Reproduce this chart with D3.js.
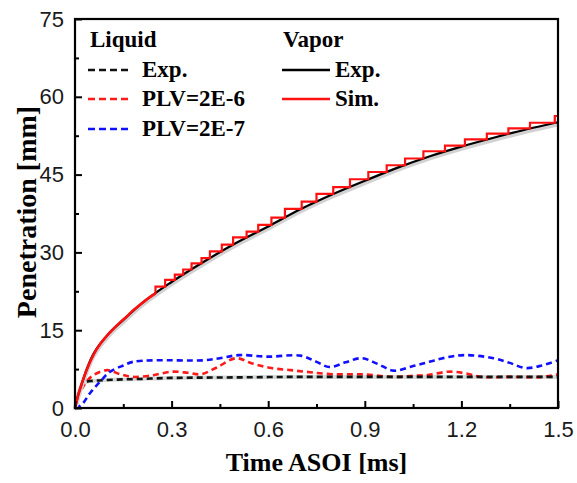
<!DOCTYPE html>
<html>
<head>
<meta charset="utf-8">
<script src="https://cdn.jsdelivr.net/npm/d3@7"></script>
<style>
  body { margin: 0; background: #fff; }
  svg { display: block; }
</style>
</head>
<body>
<svg id="chart" width="577" height="483"></svg>
<script>
/* ---------------------------------------------------
   Data
--------------------------------------------------- */

// vapor penetration, experiment
const vapExpTime = [0, 0.01, 0.02, 0.05, 0.1, 0.15, 0.2, 0.3, 0.4, 0.5, 0.6, 0.7, 0.8, 0.9, 1.0, 1.1, 1.2, 1.3, 1.4, 1.5];
const vapExpPen  = [0, 2.5, 4.5, 9.5, 14.0, 17.0, 19.8, 24.3, 28.2, 31.8, 35.0, 38.3, 41.2, 43.8, 46.3, 48.5, 50.4, 52.1, 53.7, 55.1];

// vapor penetration, simulation (stepped output once the steps get visible)
const vapSimTime = [0, 0.005, 0.01, 0.02, 0.03, 0.04, 0.05, 0.065, 0.08, 0.1, 0.12, 0.14, 0.16, 0.18, 0.2, 0.22, 0.25,
  0.28, 0.31, 0.336, 0.362, 0.393, 0.419, 0.456, 0.491, 0.533, 0.569, 0.61, 0.652, 0.704, 0.75, 0.802, 0.854,
  0.911, 0.968, 1.025, 1.082, 1.149, 1.211, 1.279, 1.346, 1.413, 1.49, 1.5];
const vapSimPen  = [0, 1.3, 2.5, 4.5, 6.3, 7.9, 9.3, 11.1, 12.5, 14.0, 15.3, 16.5, 17.6, 18.8, 19.8, 20.8, 22.1,
  23.4, 24.7, 25.7, 26.7, 27.9, 28.9, 30.2, 31.5, 32.9, 34.0, 35.3, 36.7, 38.4, 39.8, 41.3, 42.6,
  44.1, 45.5, 46.8, 48.1, 49.5, 50.6, 51.8, 52.9, 53.9, 55.0, 56.3];
const simStepFrom = 0.25;

// liquid length, experiment
const liqExpTime = [0, 0.01, 0.02, 0.03, 0.05, 0.1, 0.2, 0.3, 0.5, 0.7, 1.0, 1.5];
const liqExpPen  = [0, 2.5, 4.2, 4.9, 5.2, 5.4, 5.6, 5.8, 5.9, 6.0, 6.0, 6.0];

// liquid length, PLV=2E-6
const liq6Time = [0, 0.02, 0.05, 0.1, 0.14, 0.18, 0.24, 0.3, 0.35, 0.39, 0.44, 0.5, 0.55, 0.61, 0.67, 0.73, 0.8,
  0.89, 0.99, 1.05, 1.1, 1.16, 1.21, 1.26, 1.35, 1.45, 1.5];
const liq6Pen  = [0, 3.5, 6.0, 7.3, 6.5, 6.0, 6.3, 7.0, 6.8, 6.5, 7.8, 9.6, 8.6, 7.7, 7.3, 6.9, 6.5,
  6.5, 6.0, 6.2, 6.4, 7.0, 6.7, 6.0, 6.0, 6.0, 6.5];

// liquid length, PLV=2E-7
const liq7Time = [0, 0.02, 0.047, 0.078, 0.109, 0.15, 0.18, 0.25, 0.4, 0.45, 0.51, 0.6, 0.7, 0.75, 0.79, 0.84,
  0.89, 0.94, 0.99, 1.05, 1.1, 1.15, 1.21, 1.3, 1.35, 1.4, 1.45, 1.5];
const liq7Pen  = [0, 0.6, 2.9, 5.1, 7.0, 8.2, 8.9, 9.2, 9.2, 9.6, 10.2, 9.9, 10.1, 8.9, 7.9, 8.8,
  9.6, 8.5, 7.2, 8.1, 8.9, 9.7, 10.2, 9.6, 8.7, 7.7, 8.2, 9.2];

// axis ticks
const xTicks = [0, 0.3, 0.6, 0.9, 1.2, 1.5];
const xMinor = [0.15, 0.45, 0.75, 1.05, 1.35];
const yTicks = [0, 15, 30, 45, 60, 75];
const yMinor = [7.5, 22.5, 37.5, 52.5, 67.5];

/* ---------------------------------------------------
   Setup
--------------------------------------------------- */

const svg = d3.select("#chart");
const margin = {top: 19, right: 19, bottom: 75, left: 75};
const W = 577, H = 483;

const x = d3.scaleLinear().domain([0, 1.5]).range([margin.left, W - margin.right]);
const y = d3.scaleLinear().domain([0, 75]).range([H - margin.bottom, margin.top]);

const tickFont = "'Liberation Sans', Arial, sans-serif";
const serif = "'Liberation Serif', 'Times New Roman', serif";

/* ---------------------------------------------------
   Lines
--------------------------------------------------- */

const plot = svg.append("g");

const smooth = d3.line().x(d => x(d[0])).y(d => y(d[1])).curve(d3.curveMonotoneX);
const wavy = d3.line().x(d => x(d[0])).y(d => y(d[1])).curve(d3.curveCatmullRom.alpha(0.5));
const stepped = d3.line().x(d => x(d[0])).y(d => y(d[1])).curve(d3.curveStepBefore);

const simPts = d3.zip(vapSimTime, vapSimPen);
const simEarly = simPts.filter(d => d[0] <= simStepFrom);
const simLate = simPts.filter(d => d[0] >= simStepFrom);

// faint band under the liquid experiment
plot.append("path")
  .attr("d", smooth(d3.zip(liqExpTime, liqExpPen)))
  .attr("fill", "none").attr("stroke", "#d3dad8").attr("stroke-width", 4);

plot.append("path")
  .attr("d", wavy(d3.zip(liq6Time, liq6Pen)))
  .attr("fill", "none").attr("stroke", "#ff1a1a").attr("stroke-width", 2.6)
  .attr("stroke-dasharray", "6,4");

plot.append("path")
  .attr("d", smooth(d3.zip(liqExpTime, liqExpPen)))
  .attr("fill", "none").attr("stroke", "#111").attr("stroke-width", 2.6)
  .attr("stroke-dasharray", "6,4");

plot.append("path")
  .attr("d", wavy(d3.zip(liq7Time, liq7Pen)))
  .attr("fill", "none").attr("stroke", "#1010ff").attr("stroke-width", 2.6)
  .attr("stroke-dasharray", "6,4");

// vapor experiment with its grey shadow
plot.append("path")
  .attr("d", smooth(d3.zip(vapExpTime, vapExpPen)))
  .attr("transform", "translate(0,2)")
  .attr("fill", "none").attr("stroke", "#d2d2d2").attr("stroke-width", 4.5);

plot.append("path")
  .attr("d", smooth(d3.zip(vapExpTime, vapExpPen)))
  .attr("fill", "none").attr("stroke", "#000").attr("stroke-width", 2.2);

// vapor simulation
plot.append("path")
  .attr("d", smooth(simEarly))
  .attr("fill", "none").attr("stroke", "#ff1010").attr("stroke-width", 2.6);

plot.append("path")
  .attr("d", stepped(simLate))
  .attr("fill", "none").attr("stroke", "#ff1010").attr("stroke-width", 2.2)
  .attr("stroke-linejoin", "miter");

/* ---------------------------------------------------
   Axes
--------------------------------------------------- */

const xAxis = svg.append("g")
  .attr("transform", `translate(0,${H - margin.bottom})`)
  .call(d3.axisBottom(x).tickValues(xTicks).tickFormat(d3.format(".1f"))
    .tickSizeInner(-7).tickSizeOuter(0).tickPadding(13));

svg.append("g")
  .attr("transform", `translate(0,${H - margin.bottom})`)
  .call(d3.axisBottom(x).tickValues(xMinor).tickFormat("")
    .tickSizeInner(-4).tickSizeOuter(0));

const yAxis = svg.append("g")
  .attr("transform", `translate(${margin.left},0)`)
  .call(d3.axisLeft(y).tickValues(yTicks)
    .tickSizeInner(-7).tickSizeOuter(0).tickPadding(11));

svg.append("g")
  .attr("transform", `translate(${margin.left},0)`)
  .call(d3.axisLeft(y).tickValues(yMinor).tickFormat("")
    .tickSizeInner(-4).tickSizeOuter(0));

svg.selectAll(".domain").remove();
svg.selectAll(".tick line").attr("stroke", "#000").attr("stroke-width", 2);
[xAxis, yAxis].forEach(a => a.selectAll("text")
  .attr("font-family", tickFont).attr("font-size", 22).attr("fill", "#1a1a1a"));

// frame
svg.append("rect")
  .attr("x", margin.left).attr("y", margin.top)
  .attr("width", W - margin.left - margin.right)
  .attr("height", H - margin.top - margin.bottom)
  .attr("fill", "none").attr("stroke", "#000").attr("stroke-width", 2.2);

// axis titles
svg.append("text")
  .attr("x", (margin.left + W - margin.right) / 2).attr("y", 471)
  .attr("text-anchor", "middle")
  .attr("font-family", serif).attr("font-weight", "bold").attr("font-size", 26)
  .text("Time ASOI [ms]");

svg.append("text")
  .attr("transform", "translate(36,212) rotate(-90)")
  .attr("text-anchor", "middle")
  .attr("font-family", serif).attr("font-weight", "bold").attr("font-size", 28)
  .text("Penetration [mm]");

/* ---------------------------------------------------
   Legend
--------------------------------------------------- */

const legend = svg.append("g")
  .attr("font-family", serif).attr("font-weight", "bold").attr("font-size", 23);

legend.append("text").attr("x", 90).attr("y", 47).text("Liquid");
legend.append("text").attr("x", 283).attr("y", 47).text("Vapor");

const liqItems = [
  {label: "Exp.", color: "#111", y: 77},
  {label: "PLV=2E-6", color: "#ff1a1a", y: 106},
  {label: "PLV=2E-7", color: "#1010ff", y: 136}
];
const vapItems = [
  {label: "Exp.", color: "#000", y: 77},
  {label: "Sim.", color: "#ff1010", y: 106}
];

liqItems.forEach(d => {
  legend.append("line")
    .attr("x1", 88).attr("x2", 132).attr("y1", d.y - 7).attr("y2", d.y - 7)
    .attr("stroke", d.color).attr("stroke-width", 2.6).attr("stroke-dasharray", "7,4");
  legend.append("text").attr("x", 142).attr("y", d.y).text(d.label);
});

vapItems.forEach(d => {
  legend.append("line")
    .attr("x1", 282).attr("x2", 330).attr("y1", d.y - 7).attr("y2", d.y - 7)
    .attr("stroke", d.color).attr("stroke-width", 2.4);
  legend.append("text").attr("x", 335).attr("y", d.y).text(d.label);
});
</script>
</body>
</html>
